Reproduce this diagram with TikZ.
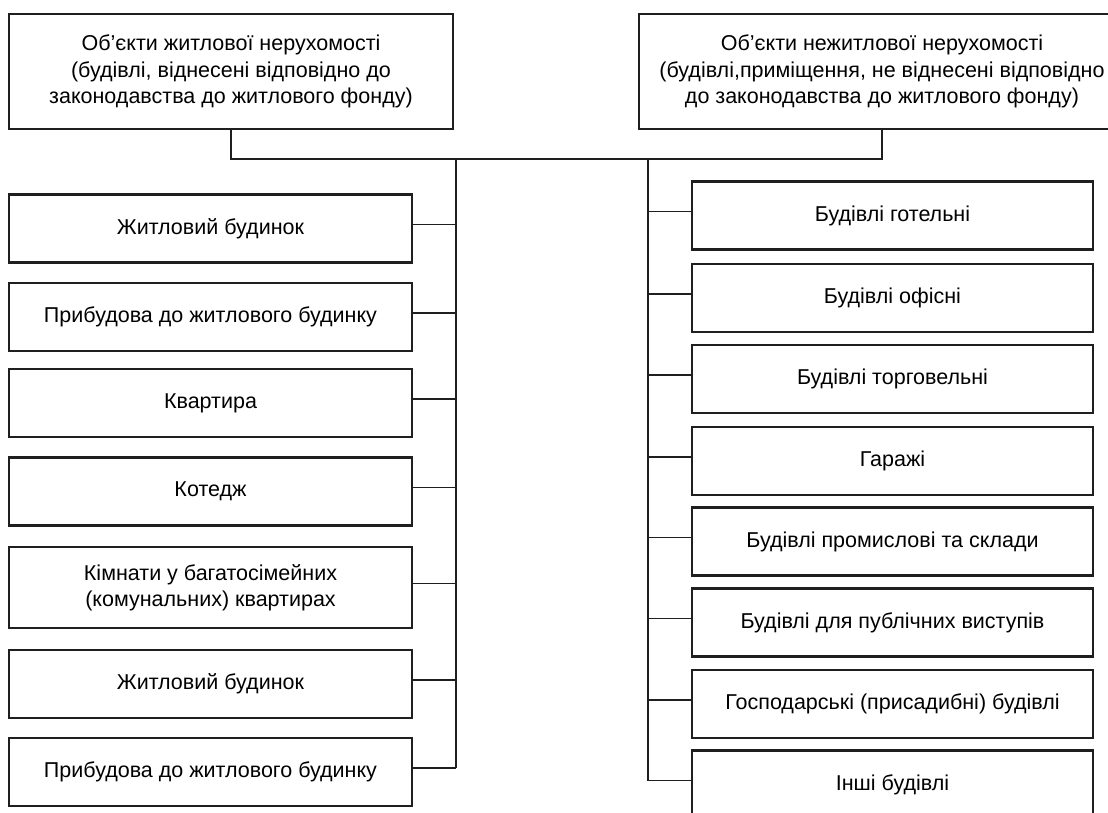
\documentclass[tikz,border=0pt]{standalone}
\usepackage{fontspec}
\setmainfont{Liberation Sans}
\usetikzlibrary{positioning}
\colorlet{lineblack}{black!88}
\tikzset{
  catbox/.style={rectangle, draw=lineblack, line width=2.2pt, minimum height=115pt, align=center, inner sep=0pt},
  itembox/.style={rectangle, draw=lineblack, line width=2.2pt, minimum width=403pt, minimum height=68pt, align=center, inner sep=0pt},
  link/.style={draw=lineblack, line width=1.4pt}
}

\begin{document}
\begin{tikzpicture}[x=1pt, y=-1pt, font=\fontsize{21.5}{26.5}\selectfont]

\path[fill=white, use as bounding box] (0,0) rectangle (1108,813);

% top categories
\node[catbox, minimum width=444pt] (topL) at (231,71.5)
  {Об’єкти житлової нерухомості\\(будівлі, віднесені відповідно до\\законодавства до житлового фонду)};
\node[catbox, minimum width=486pt] (topR) at (882,71.5)
  {Об’єкти нежитлової нерухомості\\(будівлі,приміщення, не віднесені відповідно\\до законодавства до житлового фонду)};

% left column
\node[itembox] (L1) at (210.5,228.5) {Житловий будинок};
\node[itembox] (L2) at (210.5,317) {Прибудова до житлового будинку};
\node[itembox] (L3) at (210.5,403) {Квартира};
\node[itembox] (L4) at (210.5,491.5) {Котедж};
\node[itembox, minimum height=81pt] (L5) at (210.5,587.5) {Кімнати у багатосімейних\\(комунальних) квартирах};
\node[itembox] (L6) at (210.5,684) {Житловий будинок};
\node[itembox] (L7) at (210.5,772) {Прибудова до житлового будинку};

% right column
\node[itembox, minimum width=401pt] (R1) at (892.5,215.5) {Будівлі готельні};
\node[itembox, minimum width=401pt] (R2) at (892.5,298) {Будівлі офісні};
\node[itembox, minimum width=401pt] (R3) at (892.5,379) {Будівлі торговельні};
\node[itembox, minimum width=401pt] (R4) at (892.5,461) {Гаражі};
\node[itembox, minimum width=401pt] (R5) at (892.5,541.5) {Будівлі промислові та склади};
\node[itembox, minimum width=401pt] (R6) at (892.5,622.5) {Будівлі для публічних виступів};
\node[itembox, minimum width=401pt] (R7) at (892.5,704) {Господарські (присадибні) будівлі};
\node[itembox, minimum width=401pt] (R8) at (892.5,784.5) {Інші будівлі};

% trunks
\coordinate (hub) at (0,159);
\coordinate (ltrunk) at (456,159);
\coordinate (rtrunk) at (648,159);
\coordinate (lend) at ([yshift=4pt]L7.east);
\coordinate (rend) at ([yshift=4pt]R8.west);
\draw[link] (topL.south) -- (topL.south |- hub) -- (topR.south |- hub) -- (topR.south);
\draw[link] (ltrunk) -- (ltrunk |- lend);
\draw[link] (rtrunk) -- (rtrunk |- rend);

% branches
\foreach \i in {1,...,7}
  \draw[link] ([yshift=4pt]L\i.east) -- ([yshift=4pt]L\i.east -| ltrunk);
\foreach \i in {1,...,8}
  \draw[link] ([yshift=4pt]R\i.west) -- ([yshift=4pt]R\i.west -| rtrunk);

\end{tikzpicture}
\end{document}
